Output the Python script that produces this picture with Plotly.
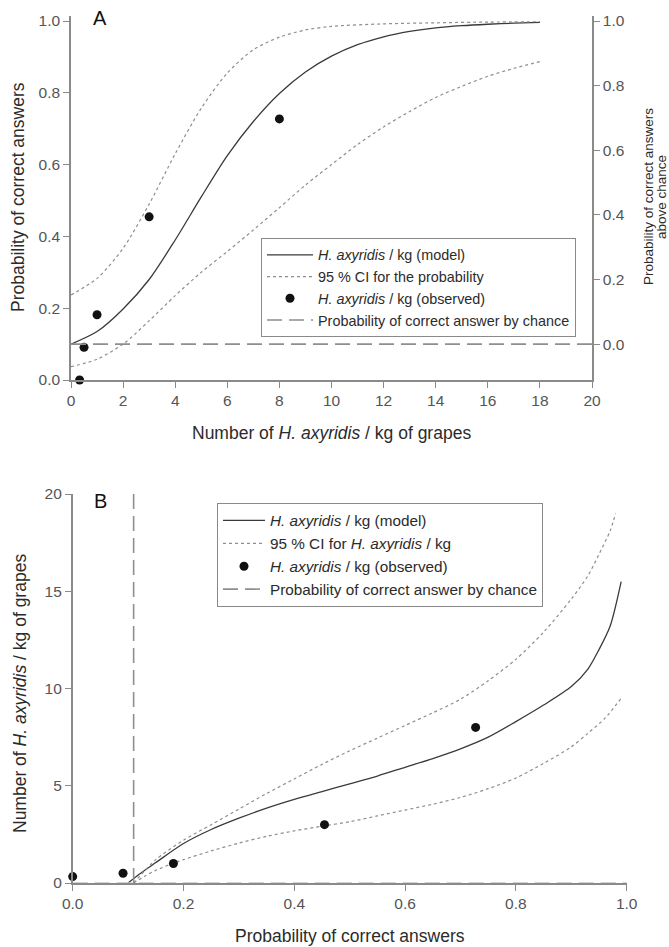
import plotly.graph_objects as go

W, H = 669, 947

# ---------------- Panel A data ----------------
a_model_x = [0, 1, 2, 3, 4, 5, 6, 7, 8, 9, 10, 11, 12, 13, 14, 15, 16, 17, 18]
a_model_y = [0.100, 0.135, 0.198, 0.28, 0.39, 0.51, 0.625, 0.72, 0.798, 0.858, 0.902, 0.934, 0.956, 0.971, 0.981, 0.987, 0.991, 0.994, 0.996]

a_upper_x = [0, 1, 2, 3, 4, 5, 6, 7, 8, 9, 10, 12, 14, 16, 18]
a_upper_y = [0.237, 0.283, 0.367, 0.49, 0.63, 0.757, 0.855, 0.92, 0.955, 0.975, 0.985, 0.992, 0.995, 0.997, 0.998]

a_lower_x = [0, 1, 2, 3, 4, 5, 6, 7, 8, 9, 10, 11, 12, 13, 14, 15, 16, 17, 18]
a_lower_y = [0.037, 0.058, 0.10, 0.165, 0.235, 0.30, 0.358, 0.418, 0.48, 0.543, 0.60, 0.656, 0.705, 0.748, 0.787, 0.818, 0.846, 0.868, 0.887]

obs_kg = [0.33, 0.5, 1, 3, 8]
obs_prob = [0.0, 0.0909, 0.1818, 0.4545, 0.7273]

chance_a_x = [0, 20]
chance_a_y = [0.1, 0.1]

# ---------------- Panel B data ----------------
b_model_p = [0.10, 0.12, 0.15, 0.2, 0.25, 0.3, 0.35, 0.4, 0.45, 0.5, 0.55, 0.6, 0.65, 0.7, 0.75, 0.8, 0.85, 0.9, 0.93, 0.95, 0.97, 0.99]
b_model_n = [0, 0.45, 1.05, 2.03, 2.75, 3.33, 3.85, 4.3, 4.7, 5.1, 5.5, 5.95, 6.4, 6.9, 7.5, 8.3, 9.15, 10.1, 11.0, 12.0, 13.2, 15.5]

b_upper_p = [0.11, 0.15, 0.2, 0.25, 0.3, 0.35, 0.4, 0.45, 0.5, 0.55, 0.6, 0.65, 0.7, 0.75, 0.8, 0.85, 0.9, 0.93, 0.95, 0.97, 0.98]
b_upper_n = [0, 1.2, 2.2, 3.0, 3.8, 4.6, 5.35, 6.1, 6.8, 7.45, 8.1, 8.75, 9.45, 10.4, 11.5, 12.9, 14.6, 15.8, 16.9, 18.1, 19.0]

b_lower_p = [0.11, 0.13, 0.15, 0.18, 0.2, 0.25, 0.3, 0.35, 0.4, 0.45, 0.5, 0.55, 0.6, 0.65, 0.7, 0.75, 0.8, 0.85, 0.9, 0.93, 0.96, 0.99]
b_lower_n = [0, 0.35, 0.65, 1.0, 1.2, 1.65, 2.05, 2.4, 2.68, 2.92, 3.15, 3.45, 3.75, 4.05, 4.4, 4.85, 5.4, 6.15, 7.0, 7.7, 8.45, 9.5]

chance_b_vx = [0.11, 0.11]
chance_b_vy = [0, 20]
chance_b_hx = [0, 1]
chance_b_hy = [0, 0]

a_xticks = [0, 2, 4, 6, 8, 10, 12, 14, 16, 18, 20]
a_yticks = [0.0, 0.2, 0.4, 0.6, 0.8, 1.0]
a_y2ticks = [0.0, 0.2, 0.4, 0.6, 0.8, 1.0]
b_xticks = [0.0, 0.2, 0.4, 0.6, 0.8, 1.0]
b_yticks = [0, 5, 10, 15, 20]

MODEL_C = "#3a3a3a"
CI_C = "#8e8e8e"
DASH_C = "#8e8e8e"
AXIS_C = "#8a8a8a"
TICK_C = "#555555"
TXT_C = "#2b2b2b"
FONT = "Liberation Sans, Arial, sans-serif"

fig = go.Figure()

# Panel A
fig.add_trace(go.Scatter(x=a_model_x, y=a_model_y, mode="lines", name="<i>H. axyridis</i> / kg (model)",
                         line=dict(color=MODEL_C, width=1.3, shape="spline", smoothing=0.8),
                         xaxis="x", yaxis="y", legend="legend"))
fig.add_trace(go.Scatter(x=a_upper_x, y=a_upper_y, mode="lines", name="95 % CI for the probability",
                         line=dict(color=CI_C, width=1.2, dash="dot", shape="spline", smoothing=0.8),
                         legendgroup="aci", xaxis="x", yaxis="y", legend="legend"))
fig.add_trace(go.Scatter(x=a_lower_x, y=a_lower_y, mode="lines", name="95 % CI for the probability",
                         line=dict(color=CI_C, width=1.2, dash="dot", shape="spline", smoothing=0.8),
                         legendgroup="aci", showlegend=False, xaxis="x", yaxis="y", legend="legend"))
fig.add_trace(go.Scatter(x=obs_kg, y=obs_prob, mode="markers", name="<i>H. axyridis</i> / kg (observed)",
                         marker=dict(color="#111111", size=9), cliponaxis=False,
                         xaxis="x", yaxis="y", legend="legend"))
fig.add_trace(go.Scatter(x=chance_a_x, y=chance_a_y, mode="lines", name="Probability of correct answer by chance",
                         line=dict(color=DASH_C, width=1.6, dash="15px,7px"),
                         xaxis="x", yaxis="y", legend="legend"))

# Panel B
fig.add_trace(go.Scatter(x=b_model_p, y=b_model_n, mode="lines", name="<i>H. axyridis</i> / kg (model)",
                         line=dict(color=MODEL_C, width=1.3, shape="spline", smoothing=0.8),
                         xaxis="x2", yaxis="y3", legend="legend2"))
fig.add_trace(go.Scatter(x=b_upper_p, y=b_upper_n, mode="lines", name="95 % CI for <i>H. axyridis</i> / kg",
                         line=dict(color=CI_C, width=1.2, dash="dot", shape="spline", smoothing=0.8),
                         legendgroup="bci", xaxis="x2", yaxis="y3", legend="legend2"))
fig.add_trace(go.Scatter(x=b_lower_p, y=b_lower_n, mode="lines", name="95 % CI for <i>H. axyridis</i> / kg",
                         line=dict(color=CI_C, width=1.2, dash="dot", shape="spline", smoothing=0.8),
                         legendgroup="bci", showlegend=False, xaxis="x2", yaxis="y3", legend="legend2"))
fig.add_trace(go.Scatter(x=obs_prob, y=obs_kg, mode="markers", name="<i>H. axyridis</i> / kg (observed)",
                         marker=dict(color="#111111", size=9), cliponaxis=False,
                         xaxis="x2", yaxis="y3", legend="legend2"))
fig.add_trace(go.Scatter(x=chance_b_vx, y=chance_b_vy, mode="lines", name="Probability of correct answer by chance",
                         line=dict(color=DASH_C, width=1.6, dash="15px,7px"),
                         xaxis="x2", yaxis="y3", legend="legend2"))
fig.add_trace(go.Scatter(x=chance_b_hx, y=chance_b_hy, mode="lines", showlegend=False,
                         line=dict(color="#c4c4c4", width=1.6, dash="15px,7px"), cliponaxis=False,
                         xaxis="x2", yaxis="y3", legend="legend2"))

# dummy trace to activate the right axis
fig.add_trace(go.Scatter(x=[None], y=[None], xaxis="x", yaxis="y2", showlegend=False, hoverinfo="skip"))


def px_x(p):
    return p / W


def px_y(p):
    return (H - p) / H


axis_common = dict(showgrid=False, zeroline=False, showline=True, linecolor=AXIS_C, linewidth=1.5,
                   ticks="outside", ticklen=6, tickwidth=1.2, tickcolor=AXIS_C, automargin=False,
                   tickfont=dict(family=FONT, size=15.5, color=TICK_C), fixedrange=True)

a_ymax = 1.0 + (21 - 16) / 359.0

fig.update_layout(
    template="none",
    width=W, height=H, margin=dict(l=0, r=0, t=0, b=0, pad=0, autoexpand=False),
    paper_bgcolor="white", plot_bgcolor="rgba(0,0,0,0)",
    font=dict(family=FONT, color=TXT_C),
    xaxis=dict(domain=[px_x(71), px_x(592)], range=[0, 20], tickvals=a_xticks, anchor="y", **axis_common),
    yaxis=dict(domain=[px_y(380), px_y(16)], range=[0, a_ymax], tickvals=a_yticks, tickformat=".1f",
               anchor="x", **axis_common),
    yaxis2=dict(overlaying="y", side="right", anchor="x", range=[-0.1 / 0.9, (a_ymax - 0.1) / 0.9],
                tickvals=a_y2ticks, tickformat=".1f", **axis_common),
    xaxis2=dict(domain=[px_x(72.7), px_x(626.7)], range=[0, 1], tickvals=b_xticks, tickformat=".1f",
                anchor="y3", **axis_common),
    yaxis3=dict(domain=[px_y(883), px_y(494)], range=[0, 20], tickvals=b_yticks, anchor="x2", **axis_common),
    legend=dict(x=px_x(261), y=px_y(238), xanchor="left", yanchor="top", bgcolor="white",
                bordercolor=AXIS_C, borderwidth=1, font=dict(family=FONT, size=14.4, color=TXT_C),
                itemwidth=46, tracegroupgap=0, traceorder="normal"),
    legend2=dict(x=px_x(217), y=px_y(503), xanchor="left", yanchor="top", bgcolor="white",
                 bordercolor=AXIS_C, borderwidth=1, font=dict(family=FONT, size=15.3, color=TXT_C),
                 itemwidth=42, tracegroupgap=0, traceorder="normal"),
    showlegend=True,
)

ann = []


def add_text(text, x, y, size, angle=0, color=TXT_C):
    ann.append(dict(text=text, x=px_x(x), y=px_y(y), xref="paper", yref="paper", showarrow=False,
                    xanchor="center", yanchor="middle", textangle=angle,
                    font=dict(family=FONT, size=size, color=color)))


add_text("A", 100, 18, 20, color="#111111")
add_text("B", 100, 501, 20, color="#111111")
add_text("Probability of correct answers", 18, 197, 17.5, angle=-90)
add_text("Number of <i>H. axyridis</i> / kg of grapes", 331, 433, 17.5)
add_text("Probability of correct answers", 648, 197, 13.5, angle=-90)
add_text("above chance", 661, 197, 13.5, angle=-90)
add_text("Number of <i>H. axyridis</i> / kg of grapes", 20, 694, 17.5, angle=-90)
add_text("Probability of correct answers", 350, 936, 17.5)

fig.update_layout(annotations=ann)

fig.write_html("out.html", config={"displayModeBar": False},
               post_script="document.body.style.margin='0px';")
